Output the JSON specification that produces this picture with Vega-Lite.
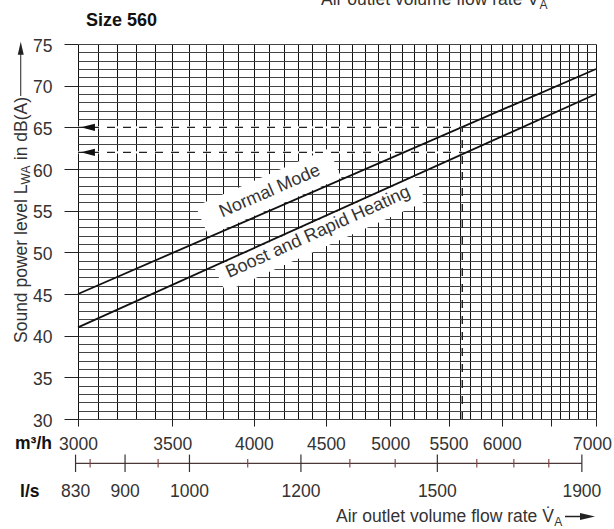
{
  "$schema": "https://vega.github.io/schema/vega-lite/v6.json",
  "autosize": {"type": "none"},
  "padding": {"left": 78, "top": 44, "right": 18, "bottom": 110},
  "width": 518,
  "height": 375,
  "background": "white",
  "config": {
    "view": {"stroke": null},
    "font": "Liberation Sans",
    "axis": {"labelFont": "Liberation Sans"},
    "text": {"font": "Liberation Sans"}
  },
  "datasets": {
    "lines": [
      {"mode": "Normal Mode", "flow": 3000, "level": 45},
      {"mode": "Normal Mode", "flow": 7000, "level": 72},
      {"mode": "Boost and Rapid Heating", "flow": 3000, "level": 41},
      {"mode": "Boost and Rapid Heating", "flow": 7000, "level": 69}
    ],
    "readings": [
      {"reading": "Normal Mode", "step": 1, "flow": 3000, "level": 65},
      {"reading": "Normal Mode", "step": 2, "flow": 5625, "level": 65},
      {"reading": "Normal Mode", "step": 3, "flow": 5625, "level": 30},
      {"reading": "Boost and Rapid Heating", "step": 1, "flow": 3000, "level": 62},
      {"reading": "Boost and Rapid Heating", "step": 2, "flow": 5625, "level": 62}
    ],
    "ls": [
      {"ls": 830, "flow": 2988, "kind": "major"},
      {"ls": 850, "flow": 3060, "kind": "minor"},
      {"ls": 900, "flow": 3240, "kind": "major"},
      {"ls": 950, "flow": 3420, "kind": "minor"},
      {"ls": 1000, "flow": 3600, "kind": "major"},
      {"ls": 1100, "flow": 3960, "kind": "minor"},
      {"ls": 1200, "flow": 4320, "kind": "major"},
      {"ls": 1300, "flow": 4680, "kind": "minor"},
      {"ls": 1400, "flow": 5040, "kind": "minor"},
      {"ls": 1500, "flow": 5400, "kind": "major"},
      {"ls": 1600, "flow": 5760, "kind": "minor"},
      {"ls": 1700, "flow": 6120, "kind": "minor"},
      {"ls": 1800, "flow": 6480, "kind": "minor"},
      {"ls": 1900, "flow": 6840, "kind": "major"}
    ]
  },
  "layer": [
    {
      "data": {"name": "lines"},
      "mark": {"type": "line", "color": "#111", "strokeWidth": 1.8, "opacity": 0},
      "encoding": {
        "x": {
          "field": "flow", "type": "quantitative",
          "scale": {"type": "log", "domain": [3000, 7000], "nice": false},
          "axis": {
            "values": [3000,3100,3200,3300,3400,3500,3600,3700,3800,3900,4000,4100,4200,4300,4400,4500,4600,4700,4800,4900,5000,5100,5200,5300,5400,5500,5600,5700,5800,5900,6000,6100,6200,6300,6400,6500,6600,6700,6800,6900,7000],
            "tickCount": 100,
            "grid": true, "gridColor": "#111", "gridWidth": 1, "gridOpacity": 1,
            "domain": false,
            "tickSize": 7, "tickColor": "#222", "tickWidth": 1,
            "tickOpacity": {"condition": {"test": "datum.value % 500 === 0", "value": 1}, "value": 0},
            "labelExpr": "indexof([3000,3500,4000,4500,5000,5500,6000,7000], datum.value) >= 0 ? datum.value + '' : ''",
            "labelOffset": {"condition": {"test": "datum.value === 7000", "value": -4}, "value": 0},
            "labelFontSize": 17.5, "labelColor": "#333", "labelPadding": 9,
            "labelOverlap": false, "labelFlush": false, "labelBound": false,
            "title": null
          }
        },
        "y": {
          "field": "level", "type": "quantitative",
          "scale": {"domain": [30, 75], "nice": false, "zero": false},
          "axis": {
            "values": [30,31,32,33,34,35,36,37,38,39,40,41,42,43,44,45,46,47,48,49,50,51,52,53,54,55,56,57,58,59,60,61,62,63,64,65,66,67,68,69,70,71,72,73,74,75],
            "tickCount": 100,
            "grid": true, "gridColor": "#444", "gridWidth": 1, "gridOpacity": 1,
            "domain": false,
            "tickSize": 14, "tickColor": "#222", "tickWidth": 1,
            "tickOpacity": {"condition": {"test": "datum.value % 5 === 0", "value": 1}, "value": 0},
            "labelExpr": "datum.value % 5 === 0 ? datum.value + '' : ''",
            "labelFontSize": 17.5, "labelColor": "#333", "labelPadding": 12, "labelOffset": 2,
            "labelOverlap": false, "labelFlush": false, "labelBound": false,
            "title": null
          }
        },
        "detail": {"field": "mode", "type": "nominal"}
      }
    },
    {
      "data": {"values": [{}]},
      "mark": {"type": "point", "shape": "M-1,-0.2207L1,-0.2207L1,0.2207L-1,0.2207Z", "size": 21025, "angle": 336.5, "filled": true, "color": "white", "opacity": 1, "strokeWidth": 0},
      "encoding": {
        "x": {"datum": 4097, "type": "quantitative"},
        "y": {"datum": 57.24, "type": "quantitative"}
      }
    },
    {
      "data": {"values": [{}]},
      "mark": {"type": "point", "shape": "M-1,-0.1227L1,-0.1227L1,0.1227L-1,0.1227Z", "size": 48400, "angle": 335.7, "filled": true, "color": "white", "opacity": 1, "strokeWidth": 0},
      "encoding": {
        "x": {"datum": 4457, "type": "quantitative"},
        "y": {"datum": 52.18, "type": "quantitative"}
      }
    },
    {
      "data": {"name": "readings"},
      "transform": [{"filter": "datum.step <= 2"}],
      "mark": {"type": "line", "color": "white", "strokeWidth": 2.4},
      "encoding": {
        "x": {"field": "flow", "type": "quantitative"},
        "y": {"field": "level", "type": "quantitative"},
        "detail": {"field": "reading", "type": "nominal"},
        "order": {"field": "step", "type": "quantitative"}
      }
    },
    {
      "data": {"name": "lines"},
      "mark": {"type": "line", "color": "#111", "strokeWidth": 1.8},
      "encoding": {
        "x": {"field": "flow", "type": "quantitative"},
        "y": {"field": "level", "type": "quantitative"},
        "detail": {"field": "mode", "type": "nominal"}
      }
    },
    {
      "data": {"name": "readings"},
      "mark": {"type": "line", "color": "#222", "strokeWidth": 1.4, "strokeDash": [8, 8], "strokeDashOffset": 3},
      "encoding": {
        "x": {"field": "flow", "type": "quantitative"},
        "y": {"field": "level", "type": "quantitative"},
        "detail": {"field": "reading", "type": "nominal"},
        "order": {"field": "step", "type": "quantitative"}
      }
    },
    {
      "data": {"name": "readings"},
      "transform": [{"filter": "datum.step === 1"}],
      "mark": {"type": "point", "shape": "M-1,0L1,-0.5L1,0.5Z", "size": 204, "filled": true, "color": "#111", "opacity": 1, "strokeWidth": 0},
      "encoding": {
        "x": {"datum": 3048.6, "type": "quantitative"},
        "y": {"field": "level", "type": "quantitative"}
      }
    },
    {
      "data": {"values": [{}]},
      "mark": {"type": "text", "text": "Normal Mode", "fontSize": 18, "color": "#333", "angle": 336.5, "align": "center", "baseline": "middle"},
      "encoding": {
        "x": {"datum": 4106, "type": "quantitative"},
        "y": {"datum": 57.32, "type": "quantitative"}
      }
    },
    {
      "data": {"values": [{}]},
      "mark": {"type": "text", "text": "Boost and Rapid Heating", "fontSize": 18, "color": "#333", "angle": 335.7, "align": "center", "baseline": "middle"},
      "encoding": {
        "x": {"datum": 4443, "type": "quantitative"},
        "y": {"datum": 52.4, "type": "quantitative"}
      }
    },
    {
      "data": {"values": [{}]},
      "mark": {"type": "text", "text": "Size 560", "fontSize": 18, "fontWeight": "bold", "color": "#111", "align": "left", "baseline": "middle"},
      "encoding": {
        "x": {"datum": 3039.5, "type": "quantitative"},
        "y": {"datum": 77.82, "type": "quantitative"}
      }
    },
    {
      "data": {"values": [{}]},
      "mark": {"type": "text", "text": "m³/h", "fontSize": 17.5, "fontWeight": "bold", "color": "#111", "align": "left", "baseline": "middle"},
      "encoding": {
        "x": {"datum": 2706.5, "type": "quantitative"},
        "y": {"datum": 27.0, "type": "quantitative"}
      }
    },
    {
      "data": {"values": [{}]},
      "mark": {"type": "text", "text": "l/s", "fontSize": 17.5, "fontWeight": "bold", "color": "#111", "align": "left", "baseline": "middle"},
      "encoding": {
        "x": {"datum": 2728.6, "type": "quantitative"},
        "y": {"datum": 21.3, "type": "quantitative"}
      }
    },
    {
      "data": {"values": [{}]},
      "mark": {"type": "text", "text": "Sound power level L", "fontSize": 17.5, "color": "#333", "angle": 270, "align": "left", "baseline": "middle"},
      "encoding": {
        "x": {"datum": 2736, "type": "quantitative"},
        "y": {"datum": 39.12, "type": "quantitative"}
      }
    },
    {
      "data": {"values": [{}]},
      "mark": {"type": "text", "text": "WA", "fontSize": 12, "color": "#333", "angle": 270, "align": "left", "baseline": "middle"},
      "encoding": {
        "x": {"datum": 2754, "type": "quantitative"},
        "y": {"datum": 58.15, "type": "quantitative"}
      }
    },
    {
      "data": {"values": [{}]},
      "mark": {"type": "text", "text": "in dB(A)", "fontSize": 17.5, "color": "#333", "angle": 270, "align": "left", "baseline": "middle"},
      "encoding": {
        "x": {"datum": 2736, "type": "quantitative"},
        "y": {"datum": 61.06, "type": "quantitative"}
      }
    },
    {
      "data": {"values": [{}]},
      "mark": {"type": "point", "shape": "M0,-1L0.11,-0.521L0.0184,-0.521L0.0184,1L-0.0184,1L-0.0184,-0.521L-0.11,-0.521Z", "size": 2948, "filled": true, "color": "#222", "opacity": 1, "strokeWidth": 0},
      "encoding": {
        "x": {"datum": 2731.8, "type": "quantitative"},
        "y": {"datum": 72.02, "type": "quantitative"}
      }
    },
    {
      "data": {"values": [{}]},
      "mark": {"type": "text", "text": "Air outlet volume flow rate V̇", "fontSize": 17.5, "color": "#333", "align": "right", "baseline": "middle"},
      "encoding": {
        "x": {"datum": 6534, "type": "quantitative"},
        "y": {"datum": 18.24, "type": "quantitative"}
      }
    },
    {
      "data": {"values": [{}]},
      "mark": {"type": "text", "text": "A", "fontSize": 12, "color": "#333", "align": "left", "baseline": "middle"},
      "encoding": {
        "x": {"datum": 6539, "type": "quantitative"},
        "y": {"datum": 17.64, "type": "quantitative"}
      }
    },
    {
      "data": {"values": [{}]},
      "mark": {"type": "point", "shape": "M1,0L0,-0.233L0,-0.043L-1,-0.043L-1,0.043L0,0.043L0,0.233Z", "size": 900, "filled": true, "color": "#222", "opacity": 1, "strokeWidth": 0},
      "encoding": {
        "x": {"datum": 6819.3, "type": "quantitative"},
        "y": {"datum": 18.3, "type": "quantitative"}
      }
    },
    {
      "data": {"values": [{}]},
      "mark": {"type": "text", "text": "Air outlet volume flow rate V̇", "fontSize": 17.5, "color": "#333", "align": "right", "baseline": "alphabetic"},
      "encoding": {
        "x": {"datum": 6376, "type": "quantitative"},
        "y": {"datum": 79.68, "type": "quantitative"}
      }
    },
    {
      "data": {"values": [{}]},
      "mark": {"type": "text", "text": "A", "fontSize": 12, "color": "#333", "align": "left", "baseline": "alphabetic"},
      "encoding": {
        "x": {"datum": 6381.6, "type": "quantitative"},
        "y": {"datum": 79.2, "type": "quantitative"}
      }
    },
    {
      "data": {"name": "ls"},
      "mark": {"type": "line", "color": "#4a3838", "strokeWidth": 1.2},
      "encoding": {
        "x": {"field": "flow", "type": "quantitative"},
        "y": {"datum": 24.684, "type": "quantitative"}
      }
    },
    {
      "data": {"name": "ls"},
      "transform": [{"filter": "datum.kind === 'major'"}],
      "mark": {"type": "tick", "orient": "vertical", "size": 17.4, "thickness": 1.2, "color": "#333", "opacity": 1},
      "encoding": {
        "x": {"field": "flow", "type": "quantitative"},
        "y": {"datum": 24.684, "type": "quantitative"}
      }
    },
    {
      "data": {"name": "ls"},
      "transform": [{"filter": "datum.kind === 'minor'"}],
      "mark": {"type": "tick", "orient": "vertical", "size": 8.4, "thickness": 1.1, "color": "#7a3c3c", "opacity": 1},
      "encoding": {
        "x": {"field": "flow", "type": "quantitative"},
        "y": {"datum": 24.684, "type": "quantitative"}
      }
    },
    {
      "data": {"name": "ls"},
      "transform": [{"filter": "datum.kind === 'major'"}],
      "mark": {"type": "text", "fontSize": 17.5, "color": "#333", "align": "center", "baseline": "middle"},
      "encoding": {
        "x": {"field": "flow", "type": "quantitative"},
        "y": {"datum": 21.3, "type": "quantitative"},
        "text": {"field": "ls", "type": "quantitative", "format": "d"}
      }
    }
  ]
}
